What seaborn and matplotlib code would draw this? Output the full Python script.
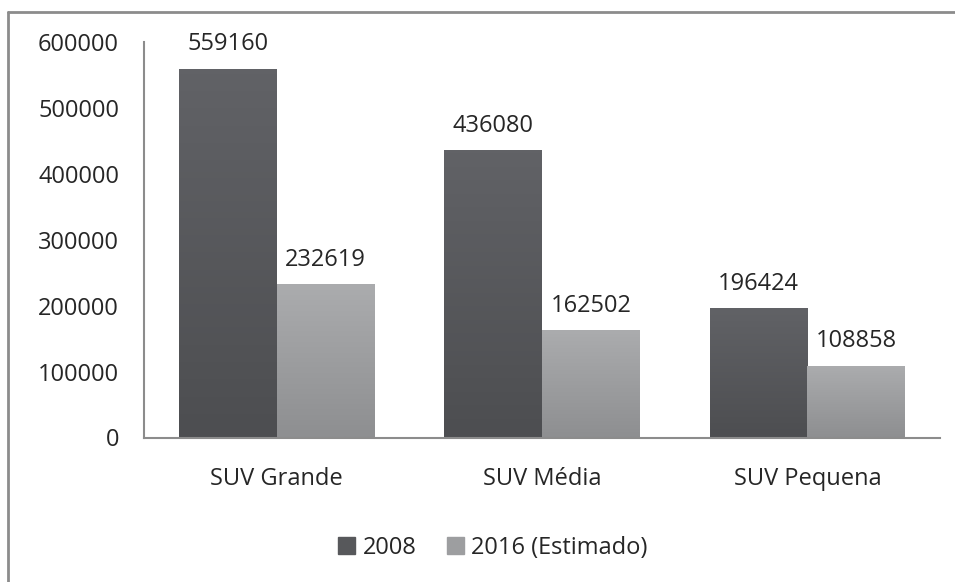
import matplotlib
matplotlib.use("Agg")
import matplotlib.pyplot as plt
import seaborn as sns
import pandas as pd
import numpy as np
from matplotlib.lines import Line2D
from matplotlib.colors import LinearSegmentedColormap

categories = ["SUV Grande", "SUV Média", "SUV Pequena"]
series = ["2008", "2016 (Estimado)"]
values_2008 = [559160, 436080, 196424]
values_2016 = [232619, 162502, 108858]
yticks = [0, 100000, 200000, 300000, 400000, 500000, 600000]

df = pd.DataFrame({
    "categoria": categories * 2,
    "serie": [series[0]] * 3 + [series[1]] * 3,
    "valor": values_2008 + values_2016,
})

sns.set_theme(style="white")
plt.rcParams["font.family"] = ["Open Sans", "DejaVu Sans"]
text_color = "#262626"
fs = 17

fig = plt.figure(figsize=(9.55, 5.82), dpi=100)
ax = fig.add_axes([144 / 955, 1 - 437.5 / 582, (940 - 144) / 955, (437.5 - 42) / 582])

palette = {series[0]: "#57585b", series[1]: "#9d9ea0"}
grad = {series[0]: ("#4d4e51", "#616266"), series[1]: ("#8e8f91", "#abacae")}
sns.barplot(data=df, x="categoria", y="valor", hue="serie", palette=palette,
            width=0.735, gap=0, ax=ax, legend=False, saturation=1, linewidth=0)

ax.set_ylim(0, 600000)
ax.set_xlim(-0.5, 2.5)

# vertical gradient fill on each bar
for s, c in zip(series, ax.containers):
    cmap = LinearSegmentedColormap.from_list(s, grad[s])
    for p in c.patches:
        x0, y0 = p.get_x(), p.get_y()
        w, h = p.get_width(), p.get_height()
        im = ax.imshow(np.linspace(1, 0, 64).reshape(-1, 1), cmap=cmap, aspect="auto",
                       extent=[x0, x0 + w, y0, y0 + h], origin="upper", zorder=p.get_zorder() + 0.1)
        im.set_clip_path(p)

ax.set_ylim(0, 600000)
ax.set_xlim(-0.5, 2.5)

for c in ax.containers:
    ax.bar_label(c, labels=[f"{int(v)}" for v in c.datavalues], padding=9,
                 fontsize=fs, color=text_color)

ax.set_yticks(yticks)
ax.set_yticklabels([str(t) for t in yticks], fontsize=fs, color=text_color)
ax.set_xticks(range(len(categories)))
ax.set_xticklabels(categories, fontsize=fs, color=text_color)
ax.tick_params(axis="y", length=0, pad=18)
ax.tick_params(axis="x", length=0, pad=21)
ax.set_xlabel("")
ax.set_ylabel("")
for s in ["top", "right"]:
    ax.spines[s].set_visible(False)
for s in ["left", "bottom"]:
    ax.spines[s].set_color("#8c8c8c")
    ax.spines[s].set_linewidth(1.5)
    ax.spines[s].set_zorder(5)

handles = [plt.Rectangle((0, 0), 1, 1, color=palette[s]) for s in series]
fig.legend(handles, series, loc="center", bbox_to_anchor=(493 / 955, 1 - 548 / 582),
           ncol=2, frameon=False, fontsize=fs, handlelength=0.72, handleheight=0.72,
           handletextpad=0.3, columnspacing=1.3, labelcolor=text_color)

# outer border (left and top)
fig.add_artist(Line2D([8 / 955, 8 / 955], [0, 1 - 12 / 582], transform=fig.transFigure,
                      color="#8c8c8c", linewidth=2))
fig.add_artist(Line2D([8 / 955, 1], [1 - 12 / 582, 1 - 12 / 582], transform=fig.transFigure,
                      color="#8c8c8c", linewidth=2))

fig.savefig("out.png", dpi=100)
